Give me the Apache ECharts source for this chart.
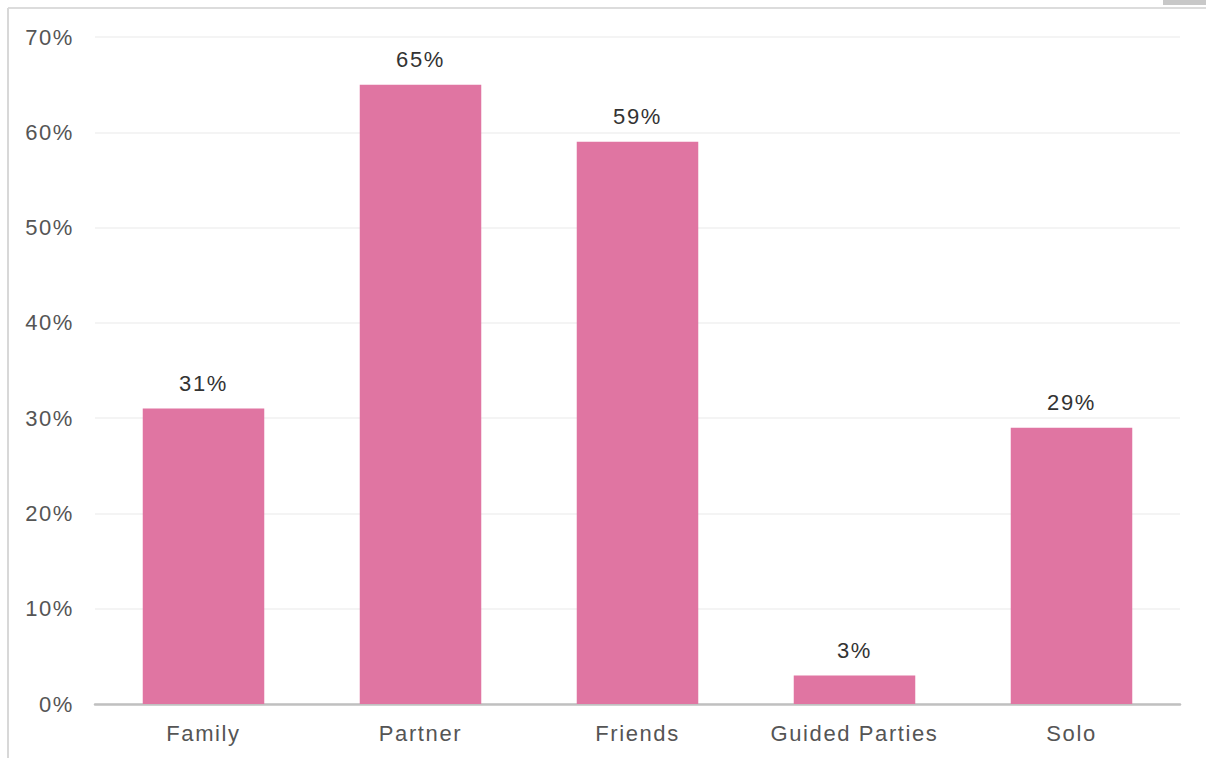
<!DOCTYPE html>
<html>
<head>
<meta charset="utf-8">
<script src="https://cdn.jsdelivr.net/npm/echarts@6/dist/echarts.min.js"></script>
<style>
  html, body { margin: 0; padding: 0; background: #fff; }
  #chart { position: absolute; left: 0; top: 0; width: 1206px; height: 758px; }
  /* slightly tracked-out labels */
  #chart svg text { letter-spacing: 1.6px; }
</style>
</head>
<body>
<div id="chart"></div>
<script>
// Travel companions share (%)
const categories = ['Family', 'Partner', 'Friends', 'Guided Parties', 'Solo'];
const shares = [31, 65, 59, 3, 29];

const FONT = 'Liberation Sans, Arial, Helvetica, sans-serif';

const chart = echarts.init(document.getElementById('chart'), null, { renderer: 'svg' });
chart.setOption({
  animation: false,
  backgroundColor: '#fff',
  // panel frame: thin top and left edges plus a small tab at the top right
  graphic: [
    { type: 'line', silent: true, shape: { x1: 8, y1: 8, x2: 1206, y2: 8 },
      style: { stroke: '#dcdcdc', lineWidth: 2 } },
    { type: 'line', silent: true, shape: { x1: 8, y1: 8, x2: 8, y2: 758 },
      style: { stroke: '#d8d8d8', lineWidth: 2 } },
    { type: 'rect', silent: true, shape: { x: 1163, y: 0, width: 43, height: 5 },
      style: { fill: '#c8c8c8' } }
  ],
  grid: { left: 95, right: 26, top: 37, bottom: 54, containLabel: false },
  xAxis: {
    type: 'category',
    data: categories,
    axisLine: { show: true, lineStyle: { color: '#c0c0c0', width: 2.5 } },
    axisTick: { show: false },
    axisLabel: { color: '#555', fontSize: 22, fontFamily: FONT, margin: 18 }
  },
  yAxis: {
    type: 'value',
    min: 0, max: 70, interval: 10,
    axisLine: { show: false },
    axisTick: { show: false },
    splitLine: { lineStyle: { color: '#f0f0f0', width: 1.5 } },
    axisLabel: { formatter: '{value}%', color: '#555', fontSize: 22, fontFamily: FONT, margin: 21 }
  },
  series: [{
    type: 'bar',
    data: shares,
    barWidth: '56%',
    itemStyle: { color: '#e075a2' },
    label: { show: true, position: 'top', formatter: '{c}%', color: '#333', fontSize: 22,
             distance: 14, fontFamily: FONT }
  }]
});
</script>
</body>
</html>
